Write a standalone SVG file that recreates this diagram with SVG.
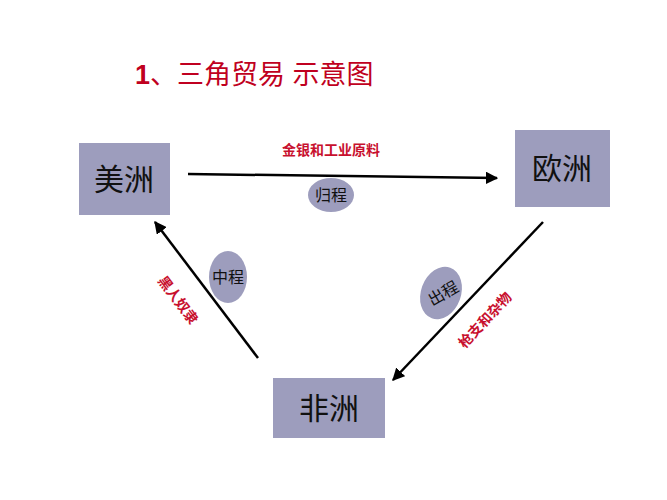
<svg xmlns="http://www.w3.org/2000/svg" width="667" height="500" viewBox="0 0 667 500">
<style>
.box{fill:#9d9dbd}
.bt{font-family:"Noto Sans CJK SC",sans-serif;font-size:30px;fill:#111;text-anchor:middle}
.ell{fill:#9d9dbd}
.et{font-family:"Noto Sans CJK SC",sans-serif;font-size:16px;fill:#111;text-anchor:middle}
.lb{font-family:"Noto Sans CJK SC",sans-serif;font-size:14px;font-weight:bold;fill:#c8102e;text-anchor:middle}
.ln{stroke:#000;stroke-width:2.5;fill:none;marker-end:url(#ah)}
</style>
<defs><marker id="ah" viewBox="0 0 10 10" refX="9" refY="5" markerWidth="5" markerHeight="5" orient="auto"><path d="M0,0L10,5L0,10z" fill="#000"/></marker></defs>
<rect width="667" height="500" fill="#fff"/>
<text x="135" y="84" font-family="Liberation Sans,'Noto Sans CJK SC',sans-serif" font-size="27" fill="#c00020" font-weight="bold">1<tspan font-weight="normal">、三角贸易 示意图</tspan></text>
<g id="connectors">
<line class="ln" x1="188" y1="174" x2="497" y2="178"/>
<line class="ln" x1="543" y1="222" x2="393" y2="380"/>
<line class="ln" x1="258" y1="358" x2="155" y2="222"/>
</g>
<g id="america"><rect class="box" x="79" y="143" width="91" height="72"/><text class="bt" x="124" y="190">美洲</text></g>
<g id="europe"><rect class="box" x="515" y="130" width="95" height="77"/><text class="bt" x="562" y="179">欧洲</text></g>
<g id="africa"><rect class="box" x="273" y="378" width="112" height="60"/><text class="bt" x="329" y="419">非洲</text></g>
<g id="l1"><text class="lb" x="331" y="155">金银和工业原料</text></g>
<g id="e1"><ellipse class="ell" cx="331" cy="195" rx="23" ry="17"/><text class="et" x="331" y="201">归程</text></g>
<g id="e2"><ellipse class="ell" cx="228" cy="277" rx="19" ry="26"/><text class="et" x="228" y="283">中程</text></g>
<g id="e3"><ellipse class="ell" cx="441" cy="293" rx="20" ry="27" transform="rotate(20 441 293)"/><text class="et" x="443" y="299" transform="rotate(-30 443 293)">出程</text></g>
<g id="l2"><text class="lb" x="178" y="305" transform="rotate(53 178 300)">黑人奴隶</text></g>
<g id="l3"><text class="lb" x="485" y="325" transform="rotate(-47 485 320)">枪支和杂物</text></g>
</svg>
